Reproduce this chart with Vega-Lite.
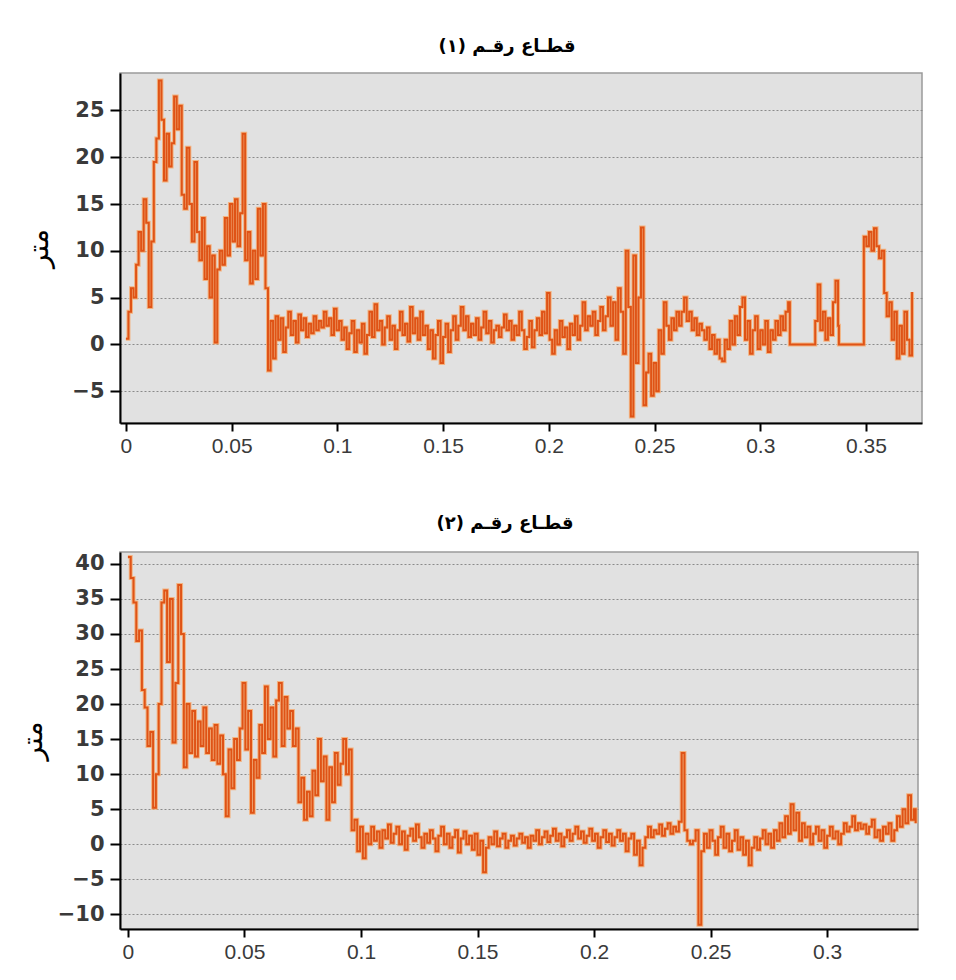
{
"$schema": "https://vega.github.io/schema/vega-lite/v6.json",
"background": "#ffffff",
"padding": {"left": 18, "top": 37, "right": 10, "bottom": 5},
"spacing": 57,
"datasets": {
"s1": [
{"x":0.0000,"v":0.6},{"x":0.0012,"v":3.5},{"x":0.0024,"v":6.0},{"x":0.0036,"v":5.0},{"x":0.0048,"v":8.5},{"x":0.0060,"v":12.0},{"x":0.0072,"v":10.0},{"x":0.0084,"v":15.5},{"x":0.0096,"v":13.0},{"x":0.0108,"v":4.0},
{"x":0.0120,"v":11.0},{"x":0.0132,"v":19.5},{"x":0.0144,"v":22.0},{"x":0.0156,"v":28.2},{"x":0.0168,"v":24.0},{"x":0.0180,"v":17.5},{"x":0.0192,"v":22.5},{"x":0.0204,"v":19.0},{"x":0.0216,"v":21.5},{"x":0.0228,"v":26.5},
{"x":0.0240,"v":23.0},{"x":0.0252,"v":25.5},{"x":0.0264,"v":16.0},{"x":0.0276,"v":14.5},{"x":0.0288,"v":21.0},{"x":0.0300,"v":15.0},{"x":0.0312,"v":11.0},{"x":0.0324,"v":19.5},{"x":0.0336,"v":12.0},{"x":0.0348,"v":9.0},
{"x":0.0360,"v":13.5},{"x":0.0372,"v":7.0},{"x":0.0384,"v":10.5},{"x":0.0396,"v":5.0},{"x":0.0408,"v":9.5},{"x":0.0420,"v":0.2},{"x":0.0432,"v":8.0},{"x":0.0444,"v":10.0},{"x":0.0456,"v":8.5},{"x":0.0468,"v":13.5},
{"x":0.0480,"v":9.5},{"x":0.0492,"v":15.0},{"x":0.0504,"v":11.0},{"x":0.0516,"v":15.5},{"x":0.0528,"v":10.5},{"x":0.0540,"v":14.0},{"x":0.0552,"v":22.5},{"x":0.0564,"v":9.0},{"x":0.0576,"v":12.0},{"x":0.0588,"v":6.5},
{"x":0.0600,"v":10.0},{"x":0.0612,"v":7.0},{"x":0.0624,"v":14.5},{"x":0.0636,"v":9.5},{"x":0.0648,"v":15.0},{"x":0.0660,"v":6.0},{"x":0.0672,"v":-2.8},{"x":0.0684,"v":2.5},{"x":0.0696,"v":-1.5},{"x":0.0708,"v":3.0},
{"x":0.0720,"v":0.5},{"x":0.0732,"v":2.8},{"x":0.0744,"v":-0.8},{"x":0.0756,"v":1.8},{"x":0.0768,"v":3.5},{"x":0.0780,"v":1.0},{"x":0.0792,"v":2.5},{"x":0.0804,"v":0.2},{"x":0.0816,"v":3.2},{"x":0.0828,"v":1.5},
{"x":0.0840,"v":2.8},{"x":0.0852,"v":0.8},{"x":0.0864,"v":2.2},{"x":0.0876,"v":1.2},{"x":0.0888,"v":3.0},{"x":0.0900,"v":1.5},{"x":0.0912,"v":2.5},{"x":0.0924,"v":1.8},{"x":0.0936,"v":3.5},{"x":0.0948,"v":2.0},
{"x":0.0960,"v":2.8},{"x":0.0972,"v":1.0},{"x":0.0984,"v":3.8},{"x":0.0996,"v":1.5},{"x":0.1008,"v":2.5},{"x":0.1020,"v":0.5},{"x":0.1032,"v":1.8},{"x":0.1044,"v":-0.5},{"x":0.1056,"v":1.2},{"x":0.1068,"v":2.5},
{"x":0.1080,"v":-0.8},{"x":0.1092,"v":1.5},{"x":0.1104,"v":0.2},{"x":0.1116,"v":2.2},{"x":0.1128,"v":-1.0},{"x":0.1140,"v":1.0},{"x":0.1152,"v":3.5},{"x":0.1164,"v":0.8},{"x":0.1176,"v":4.3},{"x":0.1188,"v":1.5},
{"x":0.1200,"v":2.5},{"x":0.1212,"v":0.0},{"x":0.1224,"v":1.8},{"x":0.1236,"v":3.0},{"x":0.1248,"v":0.5},{"x":0.1260,"v":2.0},{"x":0.1272,"v":-0.5},{"x":0.1284,"v":1.5},{"x":0.1296,"v":3.5},{"x":0.1308,"v":1.0},
{"x":0.1320,"v":2.2},{"x":0.1332,"v":0.3},{"x":0.1344,"v":4.0},{"x":0.1356,"v":1.2},{"x":0.1368,"v":2.8},{"x":0.1380,"v":0.5},{"x":0.1392,"v":3.5},{"x":0.1404,"v":1.0},{"x":0.1416,"v":2.0},{"x":0.1428,"v":-0.5},
{"x":0.1440,"v":1.5},{"x":0.1452,"v":-1.5},{"x":0.1464,"v":1.0},{"x":0.1476,"v":2.5},{"x":0.1488,"v":-2.0},{"x":0.1500,"v":0.8},{"x":0.1512,"v":2.2},{"x":0.1524,"v":-0.8},{"x":0.1536,"v":1.5},{"x":0.1548,"v":3.0},
{"x":0.1560,"v":0.5},{"x":0.1572,"v":2.0},{"x":0.1584,"v":4.0},{"x":0.1596,"v":1.5},{"x":0.1608,"v":3.0},{"x":0.1620,"v":0.8},{"x":0.1632,"v":2.2},{"x":0.1644,"v":1.0},{"x":0.1656,"v":2.8},{"x":0.1668,"v":0.5},
{"x":0.1680,"v":1.8},{"x":0.1692,"v":3.5},{"x":0.1704,"v":1.2},{"x":0.1716,"v":2.5},{"x":0.1728,"v":0.2},{"x":0.1740,"v":1.5},{"x":0.1752,"v":2.0},{"x":0.1764,"v":0.8},{"x":0.1776,"v":1.8},{"x":0.1788,"v":3.2},
{"x":0.1800,"v":1.5},{"x":0.1812,"v":2.5},{"x":0.1824,"v":0.5},{"x":0.1836,"v":2.0},{"x":0.1848,"v":1.0},{"x":0.1860,"v":3.5},{"x":0.1872,"v":1.5},{"x":0.1884,"v":-0.5},{"x":0.1896,"v":0.8},{"x":0.1908,"v":2.5},
{"x":0.1920,"v":-0.3},{"x":0.1932,"v":1.5},{"x":0.1944,"v":2.8},{"x":0.1956,"v":1.0},{"x":0.1968,"v":3.5},{"x":0.1980,"v":1.2},{"x":0.1992,"v":5.5},{"x":0.2004,"v":0.5},{"x":0.2016,"v":-1.0},{"x":0.2028,"v":1.5},
{"x":0.2040,"v":0.0},{"x":0.2052,"v":2.5},{"x":0.2064,"v":0.8},{"x":0.2076,"v":1.8},{"x":0.2088,"v":-0.5},{"x":0.2100,"v":2.2},{"x":0.2112,"v":1.0},{"x":0.2124,"v":3.0},{"x":0.2136,"v":0.5},{"x":0.2148,"v":2.0},
{"x":0.2160,"v":4.5},{"x":0.2172,"v":1.5},{"x":0.2184,"v":3.0},{"x":0.2196,"v":2.0},{"x":0.2208,"v":3.5},{"x":0.2220,"v":1.0},{"x":0.2232,"v":2.5},{"x":0.2244,"v":4.0},{"x":0.2256,"v":1.5},{"x":0.2268,"v":3.0},
{"x":0.2280,"v":5.0},{"x":0.2292,"v":2.0},{"x":0.2304,"v":4.5},{"x":0.2316,"v":0.5},{"x":0.2328,"v":6.0},{"x":0.2340,"v":3.5},{"x":0.2352,"v":-1.0},{"x":0.2364,"v":10.0},{"x":0.2376,"v":4.0},{"x":0.2388,"v":-7.7},
{"x":0.2400,"v":9.5},{"x":0.2412,"v":-2.0},{"x":0.2424,"v":5.0},{"x":0.2436,"v":12.5},{"x":0.2448,"v":-6.5},{"x":0.2460,"v":-3.0},{"x":0.2472,"v":-1.0},{"x":0.2484,"v":-5.5},{"x":0.2496,"v":-2.0},{"x":0.2508,"v":-5.0},
{"x":0.2520,"v":1.5},{"x":0.2532,"v":-1.0},{"x":0.2544,"v":4.5},{"x":0.2556,"v":2.0},{"x":0.2568,"v":0.5},{"x":0.2580,"v":2.8},{"x":0.2592,"v":1.5},{"x":0.2604,"v":3.5},{"x":0.2616,"v":2.0},{"x":0.2628,"v":3.5},
{"x":0.2640,"v":5.0},{"x":0.2652,"v":2.5},{"x":0.2664,"v":3.5},{"x":0.2676,"v":1.5},{"x":0.2688,"v":2.8},{"x":0.2700,"v":1.0},{"x":0.2712,"v":2.2},{"x":0.2724,"v":1.5},{"x":0.2736,"v":0.5},{"x":0.2748,"v":1.8},
{"x":0.2760,"v":-0.5},{"x":0.2772,"v":1.0},{"x":0.2784,"v":-1.0},{"x":0.2796,"v":0.5},{"x":0.2808,"v":-1.5},{"x":0.2820,"v":-1.8},{"x":0.2832,"v":0.5},{"x":0.2844,"v":-0.5},{"x":0.2856,"v":2.5},{"x":0.2868,"v":0.0},
{"x":0.2880,"v":3.0},{"x":0.2892,"v":1.0},{"x":0.2904,"v":4.0},{"x":0.2916,"v":5.0},{"x":0.2928,"v":0.5},{"x":0.2940,"v":2.5},{"x":0.2952,"v":-1.0},{"x":0.2964,"v":1.5},{"x":0.2976,"v":3.0},{"x":0.2988,"v":-0.5},
{"x":0.3000,"v":1.5},{"x":0.3012,"v":0.0},{"x":0.3024,"v":2.5},{"x":0.3036,"v":-0.8},{"x":0.3048,"v":1.5},{"x":0.3060,"v":0.5},{"x":0.3072,"v":2.5},{"x":0.3084,"v":1.0},{"x":0.3096,"v":3.0},{"x":0.3108,"v":1.5},
{"x":0.3120,"v":3.5},{"x":0.3132,"v":4.5},{"x":0.3140,"v":0.0},{"x":0.3260,"v":2.5},{"x":0.3272,"v":6.4},{"x":0.3284,"v":1.5},{"x":0.3296,"v":3.5},{"x":0.3308,"v":0.5},{"x":0.3320,"v":2.8},{"x":0.3332,"v":1.0},
{"x":0.3344,"v":4.5},{"x":0.3356,"v":6.8},{"x":0.3368,"v":2.0},{"x":0.3372,"v":0.0},{"x":0.3490,"v":11.5},{"x":0.3502,"v":10.5},{"x":0.3514,"v":12.0},{"x":0.3526,"v":10.0},{"x":0.3538,"v":12.4},{"x":0.3550,"v":10.5},
{"x":0.3562,"v":9.2},{"x":0.3574,"v":10.0},{"x":0.3586,"v":5.5},{"x":0.3598,"v":3.0},{"x":0.3610,"v":4.5},{"x":0.3622,"v":0.5},{"x":0.3634,"v":3.5},{"x":0.3646,"v":-1.5},{"x":0.3658,"v":2.0},{"x":0.3670,"v":-1.0},
{"x":0.3682,"v":3.5},{"x":0.3694,"v":0.5},{"x":0.3706,"v":-1.2},{"x":0.3718,"v":5.6}
],
"s2": [
{"x":0.0000,"v":41.0},{"x":0.0012,"v":38.0},{"x":0.0024,"v":34.5},{"x":0.0036,"v":29.0},{"x":0.0048,"v":30.5},{"x":0.0060,"v":22.0},{"x":0.0072,"v":19.5},{"x":0.0084,"v":14.0},{"x":0.0096,"v":16.0},{"x":0.0108,"v":5.2},
{"x":0.0120,"v":10.0},{"x":0.0132,"v":20.0},{"x":0.0144,"v":34.5},{"x":0.0156,"v":36.2},{"x":0.0168,"v":26.0},{"x":0.0180,"v":35.0},{"x":0.0192,"v":14.5},{"x":0.0204,"v":23.0},{"x":0.0216,"v":37.0},{"x":0.0228,"v":30.0},
{"x":0.0240,"v":11.0},{"x":0.0252,"v":20.0},{"x":0.0264,"v":13.0},{"x":0.0276,"v":19.0},{"x":0.0288,"v":12.5},{"x":0.0300,"v":17.5},{"x":0.0312,"v":14.0},{"x":0.0324,"v":19.5},{"x":0.0336,"v":13.0},{"x":0.0348,"v":16.5},
{"x":0.0360,"v":12.0},{"x":0.0372,"v":17.0},{"x":0.0384,"v":11.5},{"x":0.0396,"v":15.5},{"x":0.0408,"v":10.0},{"x":0.0420,"v":4.0},{"x":0.0432,"v":13.5},{"x":0.0444,"v":8.0},{"x":0.0456,"v":15.0},{"x":0.0468,"v":12.0},
{"x":0.0480,"v":16.5},{"x":0.0492,"v":23.0},{"x":0.0504,"v":13.5},{"x":0.0516,"v":19.0},{"x":0.0528,"v":4.5},{"x":0.0540,"v":12.0},{"x":0.0552,"v":9.5},{"x":0.0564,"v":17.0},{"x":0.0576,"v":13.0},{"x":0.0588,"v":22.5},
{"x":0.0600,"v":15.0},{"x":0.0612,"v":19.5},{"x":0.0624,"v":12.5},{"x":0.0636,"v":20.5},{"x":0.0648,"v":23.0},{"x":0.0660,"v":14.0},{"x":0.0672,"v":21.0},{"x":0.0684,"v":16.5},{"x":0.0696,"v":19.0},{"x":0.0708,"v":14.0},
{"x":0.0720,"v":16.5},{"x":0.0732,"v":6.0},{"x":0.0744,"v":9.5},{"x":0.0756,"v":3.5},{"x":0.0768,"v":7.5},{"x":0.0780,"v":4.0},{"x":0.0792,"v":10.5},{"x":0.0804,"v":7.0},{"x":0.0816,"v":15.0},{"x":0.0828,"v":9.0},
{"x":0.0840,"v":12.5},{"x":0.0852,"v":3.5},{"x":0.0864,"v":11.0},{"x":0.0876,"v":6.0},{"x":0.0888,"v":13.0},{"x":0.0900,"v":8.5},{"x":0.0912,"v":11.5},{"x":0.0924,"v":15.0},{"x":0.0936,"v":10.0},{"x":0.0948,"v":13.5},
{"x":0.0960,"v":2.0},{"x":0.0972,"v":3.5},{"x":0.0984,"v":-1.0},{"x":0.0996,"v":2.5},{"x":0.1008,"v":-2.0},{"x":0.1020,"v":1.5},{"x":0.1032,"v":0.0},{"x":0.1044,"v":2.5},{"x":0.1056,"v":0.5},{"x":0.1068,"v":1.8},
{"x":0.1080,"v":-0.5},{"x":0.1092,"v":2.0},{"x":0.1104,"v":0.8},{"x":0.1116,"v":2.8},{"x":0.1128,"v":0.2},{"x":0.1140,"v":1.5},{"x":0.1152,"v":2.5},{"x":0.1164,"v":0.0},{"x":0.1176,"v":1.8},{"x":0.1188,"v":-0.8},
{"x":0.1200,"v":1.2},{"x":0.1212,"v":2.2},{"x":0.1224,"v":0.5},{"x":0.1236,"v":2.8},{"x":0.1248,"v":1.0},{"x":0.1260,"v":-0.5},{"x":0.1272,"v":1.5},{"x":0.1284,"v":0.2},{"x":0.1296,"v":2.0},{"x":0.1308,"v":0.8},
{"x":0.1320,"v":-1.0},{"x":0.1332,"v":1.2},{"x":0.1344,"v":2.5},{"x":0.1356,"v":0.0},{"x":0.1368,"v":1.5},{"x":0.1380,"v":-0.5},{"x":0.1392,"v":1.0},{"x":0.1404,"v":2.0},{"x":0.1416,"v":-1.2},{"x":0.1428,"v":0.8},
{"x":0.1440,"v":1.8},{"x":0.1452,"v":0.0},{"x":0.1464,"v":1.2},{"x":0.1476,"v":-0.8},{"x":0.1488,"v":1.5},{"x":0.1500,"v":-1.5},{"x":0.1512,"v":0.5},{"x":0.1524,"v":-4.0},{"x":0.1536,"v":-0.5},{"x":0.1548,"v":1.0},
{"x":0.1560,"v":0.0},{"x":0.1572,"v":1.8},{"x":0.1584,"v":-0.3},{"x":0.1596,"v":0.8},{"x":0.1608,"v":1.5},{"x":0.1620,"v":-0.5},{"x":0.1632,"v":0.5},{"x":0.1644,"v":1.2},{"x":0.1656,"v":-0.2},{"x":0.1668,"v":0.8},
{"x":0.1680,"v":1.5},{"x":0.1692,"v":0.2},{"x":0.1704,"v":1.0},{"x":0.1716,"v":-0.5},{"x":0.1728,"v":1.2},{"x":0.1740,"v":0.5},{"x":0.1752,"v":2.0},{"x":0.1764,"v":0.0},{"x":0.1776,"v":1.0},{"x":0.1788,"v":1.8},
{"x":0.1800,"v":0.3},{"x":0.1812,"v":1.2},{"x":0.1824,"v":2.2},{"x":0.1836,"v":0.5},{"x":0.1848,"v":1.5},{"x":0.1860,"v":-0.3},{"x":0.1872,"v":1.0},{"x":0.1884,"v":2.0},{"x":0.1896,"v":0.5},{"x":0.1908,"v":1.5},
{"x":0.1920,"v":2.5},{"x":0.1932,"v":0.8},{"x":0.1944,"v":1.8},{"x":0.1956,"v":0.2},{"x":0.1968,"v":1.2},{"x":0.1980,"v":2.2},{"x":0.1992,"v":0.5},{"x":0.2004,"v":1.5},{"x":0.2016,"v":-0.5},{"x":0.2028,"v":1.0},
{"x":0.2040,"v":2.0},{"x":0.2052,"v":0.3},{"x":0.2064,"v":1.5},{"x":0.2076,"v":-0.2},{"x":0.2088,"v":1.0},{"x":0.2100,"v":2.0},{"x":0.2112,"v":0.5},{"x":0.2124,"v":1.5},{"x":0.2136,"v":-1.0},{"x":0.2148,"v":0.8},
{"x":0.2160,"v":1.5},{"x":0.2172,"v":-1.5},{"x":0.2184,"v":0.5},{"x":0.2196,"v":-3.0},{"x":0.2208,"v":-0.5},{"x":0.2220,"v":1.0},{"x":0.2232,"v":2.5},{"x":0.2244,"v":1.0},{"x":0.2256,"v":2.0},{"x":0.2268,"v":1.5},
{"x":0.2280,"v":2.8},{"x":0.2292,"v":1.2},{"x":0.2304,"v":2.2},{"x":0.2316,"v":3.0},{"x":0.2328,"v":1.5},{"x":0.2340,"v":2.5},{"x":0.2352,"v":1.8},{"x":0.2364,"v":3.2},{"x":0.2376,"v":13.0},{"x":0.2388,"v":2.0},
{"x":0.2400,"v":0.5},{"x":0.2412,"v":0.0},{"x":0.2424,"v":0.5},{"x":0.2436,"v":2.0},{"x":0.2448,"v":-11.5},{"x":0.2460,"v":-1.0},{"x":0.2472,"v":1.5},{"x":0.2484,"v":-0.5},{"x":0.2496,"v":2.0},{"x":0.2508,"v":0.5},
{"x":0.2520,"v":-1.5},{"x":0.2532,"v":1.0},{"x":0.2544,"v":2.5},{"x":0.2556,"v":-0.5},{"x":0.2568,"v":1.5},{"x":0.2580,"v":-1.0},{"x":0.2592,"v":0.5},{"x":0.2604,"v":2.0},{"x":0.2616,"v":-0.8},{"x":0.2628,"v":1.0},
{"x":0.2640,"v":-1.5},{"x":0.2652,"v":0.5},{"x":0.2664,"v":-3.0},{"x":0.2676,"v":-0.5},{"x":0.2688,"v":1.0},{"x":0.2700,"v":-0.8},{"x":0.2712,"v":0.8},{"x":0.2724,"v":2.0},{"x":0.2736,"v":0.0},{"x":0.2748,"v":1.5},
{"x":0.2760,"v":-0.5},{"x":0.2772,"v":2.0},{"x":0.2784,"v":0.5},{"x":0.2796,"v":3.0},{"x":0.2808,"v":1.0},{"x":0.2820,"v":4.0},{"x":0.2832,"v":1.5},{"x":0.2844,"v":5.7},{"x":0.2856,"v":2.0},{"x":0.2868,"v":4.5},
{"x":0.2880,"v":0.5},{"x":0.2892,"v":3.0},{"x":0.2904,"v":1.0},{"x":0.2916,"v":2.5},{"x":0.2928,"v":0.0},{"x":0.2940,"v":1.5},{"x":0.2952,"v":2.5},{"x":0.2964,"v":0.5},{"x":0.2976,"v":2.0},{"x":0.2988,"v":-0.5},
{"x":0.3000,"v":1.2},{"x":0.3012,"v":2.5},{"x":0.3024,"v":0.8},{"x":0.3036,"v":1.8},{"x":0.3048,"v":0.0},{"x":0.3060,"v":1.5},{"x":0.3072,"v":3.0},{"x":0.3084,"v":1.8},{"x":0.3096,"v":2.5},{"x":0.3108,"v":4.0},
{"x":0.3120,"v":2.0},{"x":0.3132,"v":3.0},{"x":0.3144,"v":2.2},{"x":0.3156,"v":2.8},{"x":0.3168,"v":1.5},{"x":0.3180,"v":2.5},{"x":0.3192,"v":3.5},{"x":0.3204,"v":1.0},{"x":0.3216,"v":2.0},{"x":0.3228,"v":0.5},
{"x":0.3240,"v":2.5},{"x":0.3252,"v":1.5},{"x":0.3264,"v":3.0},{"x":0.3276,"v":0.5},{"x":0.3288,"v":2.0},{"x":0.3300,"v":4.0},{"x":0.3312,"v":2.5},{"x":0.3324,"v":5.0},{"x":0.3336,"v":3.0},{"x":0.3348,"v":7.0},
{"x":0.3360,"v":3.5},{"x":0.3372,"v":5.0},{"x":0.3380,"v":3.0}
]
},
"vconcat": [
{
"width": 802, "height": 350,
"title": {"text": "قطـاع رقـم (١)", "dx": -14},
"data": {"name": "s1"},
"encoding": {
"x": {"field": "x", "type": "quantitative", "scale": {"domain": [-0.0028, 0.3765], "nice": false, "zero": false}, "axis": {"title": null, "values": [0, 0.05, 0.1, 0.15, 0.2, 0.25, 0.3, 0.35], "format": "~g"}},
"y": {"field": "v", "type": "quantitative", "scale": {"domain": [-8.4, 29], "nice": false, "zero": false}, "axis": {"title": "متر", "titlePadding": 18, "values": [-5, 0, 5, 10, 15, 20, 25]}}
},
"layer": [
{"mark": {"type": "line", "interpolate": "step-after", "color": "#F6AA70", "strokeWidth": 4, "opacity": 0.85}, "encoding": {}},
{"mark": {"type": "line", "interpolate": "step-after", "color": "#DF5316", "strokeWidth": 2}, "encoding": {}}
]
},
{
"width": 798, "height": 377,
"title": {"text": "قطـاع رقـم (٢)", "dx": -14},
"data": {"name": "s2"},
"encoding": {
"x": {"field": "x", "type": "quantitative", "scale": {"domain": [-0.0034, 0.339], "nice": false, "zero": false}, "axis": {"title": null, "values": [0, 0.05, 0.1, 0.15, 0.2, 0.25, 0.3], "format": "~g"}},
"y": {"field": "v", "type": "quantitative", "scale": {"domain": [-12.1, 41.7], "nice": false, "zero": false}, "axis": {"title": "متر", "titlePadding": 10, "values": [-10, -5, 0, 5, 10, 15, 20, 25, 30, 35, 40]}}
},
"layer": [
{"mark": {"type": "line", "interpolate": "step-after", "color": "#F6AA70", "strokeWidth": 4, "opacity": 0.85}, "encoding": {}},
{"mark": {"type": "line", "interpolate": "step-after", "color": "#DF5316", "strokeWidth": 2}, "encoding": {}}
]
}
],
"config": {
"view": {"fill": "#E1E1E1", "stroke": "#9a9a9a", "strokeWidth": 1.5},
"axis": {"domainColor": "#000000", "domainWidth": 2, "tickColor": "#000000", "tickWidth": 2, "labelColor": "#3a3a3a", "grid": false},
"axisY": {"grid": true, "gridColor": "#8a8a8a", "gridDash": [2, 2], "gridWidth": 1, "tickSize": 10, "labelFont": "DejaVu Sans", "labelFontSize": 21, "labelFontWeight": "bold", "labelPadding": 6, "titleFont": "DejaVu Sans", "titleFontSize": 28, "titleFontWeight": "normal", "titleColor": "#000000"},
"axisX": {"tickSize": 8, "labelFont": "Liberation Sans", "labelFontSize": 21, "labelPadding": 4},
"title": {"font": "DejaVu Sans", "fontSize": 18, "fontWeight": "bold", "color": "#000000", "offset": 16}
}
}
